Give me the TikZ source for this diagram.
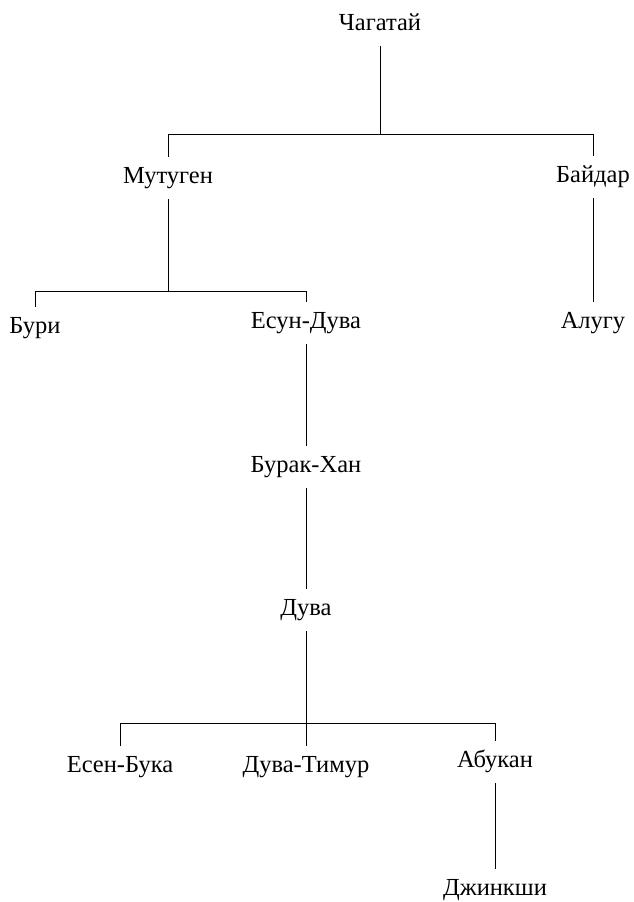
\documentclass[tikz,border=0pt]{standalone}
\usepackage{fontspec}
\setmainfont{Liberation Serif}

\begin{document}
\begin{tikzpicture}[x=1pt,y=-1pt,line width=0.9pt]
\tikzset{person/.style={anchor=base,font=\fontsize{24.5}{28}\selectfont,
text height=16pt,text depth=6pt,inner xsep=0pt,inner ysep=10pt}}
\useasboundingbox (0,0) rectangle (634,902);
% people
\node[person] (chag) at (380,30) {Чагатай};
\node[person] (mut) at (168,183) {Мутуген};
\node[person] (bay) at (593,182) {Байдар};
\node[person] (buri) at (35,333) {Бури};
\node[person] (esun) at (306,328) {Есун-Дува};
\node[person] (alugu) at (593,328) {Алугу};
\node[person] (burak) at (306,472) {Бурак-Хан};
\node[person] (duva) at (306,615) {Дува};
\node[person] (esen) at (120,772) {Есен-Бука};
\node[person] (duvat) at (306,772) {Дува-Тимур};
\node[person] (abu) at (495,767) {Абукан};
\node[person] (dzh) at (495,895) {Джинкши};
% levels of the bars
\coordinate (bar1) at (0,134);
\coordinate (bar2) at (0,291);
\coordinate (bar3) at (0,723);
% lines
\draw (chag.south) -- (chag.south |- bar1);
\draw (mut.north) |- (bay.north |- bar1) -- (bay.north);
\draw (mut.south) -- (mut.south |- bar2);
\draw (buri.north) |- (esun.north |- bar2) -- (esun.north);
\draw (bay.south) -- (alugu.north);
\draw (esun.south) -- (burak.north);
\draw (burak.south) -- (duva.north);
\draw (duva.south) -- (duvat.north);
\draw (esen.north) |- (abu.north |- bar3) -- (abu.north);
\draw (abu.south) -- (dzh.north);
\end{tikzpicture}
\end{document}
